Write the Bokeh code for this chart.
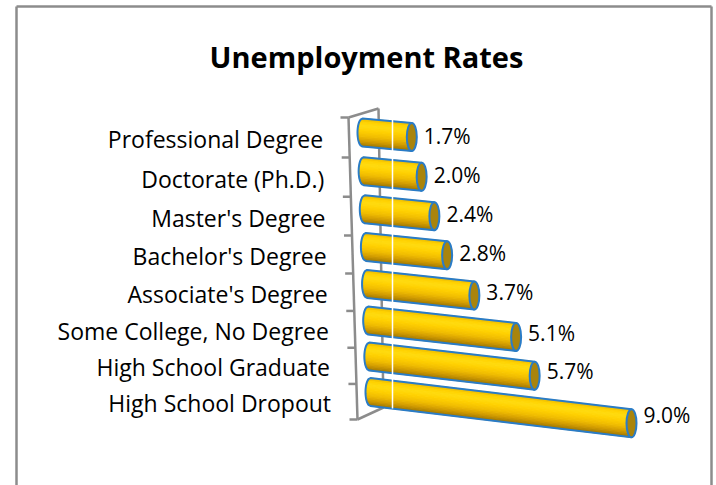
import numpy as np
from bokeh.plotting import figure
from bokeh.models import Range1d
from bokeh.core.properties import value
from bokeh.embed import file_html
from bokeh.resources import INLINE

# ---------------- data ----------------
categories = ["High School Dropout", "High School Graduate", "Some College, No Degree",
              "Associate's Degree", "Bachelor's Degree", "Master's Degree",
              "Doctorate (Ph.D.)", "Professional Degree"]
rates = [9.0, 5.7, 5.1, 3.7, 2.8, 2.4, 2.0, 1.7]
rate_labels = ["9.0%", "5.7%", "5.1%", "3.7%", "2.8%", "2.4%", "2.0%", "1.7%"]
title_text = "Unemployment Rates"

# ---------------- styles / geometry ----------------
FONT = "Open Sans"
BLUE = "#2A7CC7"
GRAY = "#8C8C8C"
CAP = "#A9840C"
n = len(categories)
PX = 29.0        # pixels per percentage point along the bar axis
HH = 14.0        # half height of cylinder
RX = 5.0         # half width of end ellipse
NB = 18          # gradient bands

stops_t = [-1.0, -0.75, -0.45, -0.1, 0.3, 0.65, 1.0]
stops_c = [(0xE2, 0xAE, 0x00), (0xFF, 0xD2, 0x00), (0xFF, 0xDC, 0x10), (0xFF, 0xD0, 0x00),
           (0xF0, 0xBC, 0x00), (0xD2, 0x9C, 0x00), (0xA0, 0x76, 0x00)]


def band_color(t):
    r = np.interp(t, stops_t, [c[0] for c in stops_c])
    g = np.interp(t, stops_t, [c[1] for c in stops_c])
    b = np.interp(t, stops_t, [c[2] for c in stops_c])
    return "#%02x%02x%02x" % (int(r), int(g), int(b))


def row_y(i):      # left-end centre (screen px) of row i (0 = bottom)
    return 391.5 - 35.21 * i - 0.265 * i * i


def row_xl(i):
    return 370.0 - 8.0 * i / (n - 1)


def row_slope(i):
    return 0.12 - 0.03 * i / (n - 1)


def tick_y(j):
    return 419.0 - 35.25 * j - 0.3125 * j * j


def front_x(y):
    return 357.0 - 9.0 * (419.0 - y) / 302.0


W, H = 716, 485
p = figure(width=W, height=H, x_range=Range1d(0, W), y_range=Range1d(H, 0),
           output_backend="svg", toolbar_location=None, x_axis_type=None, y_axis_type=None,
           min_border=0, min_border_left=0, min_border_right=0, min_border_top=0,
           min_border_bottom=0)
p.grid.visible = False
p.outline_line_color = None
p.background_fill_color = "white"
p.border_fill_color = "white"

# chart border
p.segment(x0=[16, 16, 711], y0=[6, 6, 6], x1=[16, 711, 711], y1=[485, 6, 485],
          line_color=GRAY, line_width=2.5)

# title
p.text(x=[366], y=[56], text=[title_text], text_font=value(FONT), text_font_style="bold",
       text_font_size="29px", text_align="center", text_baseline="middle", text_color="black")

# wall / axis lines
ty = [tick_y(j) for j in range(n + 1)]
top_y, bot_y = ty[-1], ty[0]
p.segment(x0=[front_x(top_y), front_x(top_y), 378, front_x(bot_y)],
          y0=[top_y, top_y, 108, bot_y],
          x1=[front_x(bot_y), 378, 383, 383],
          y1=[bot_y, 108, 407, 407], line_color=GRAY, line_width=2.5)
p.segment(x0=[front_x(y) - 8 for y in ty], y0=ty, x1=[front_x(y) for y in ty], y1=ty,
          line_color=GRAY, line_width=2.5)

# category labels
lab_y = [(ty[j] + ty[j + 1]) / 2 + 1.5 for j in range(n)]
p.text(x=[front_x(y) - 26 for y in lab_y], y=lab_y, text=categories, text_font=value(FONT),
       text_font_size="23px", text_align="right", text_baseline="middle", text_color="black")

# cylinders
bx, by, bc = [], [], []
ox, oy = [], []
cx, cy = [], []
vx, vy = [], []
for i, v in enumerate(rates):
    xl, yl = row_xl(i), row_y(i)
    dx = PX * v
    xr = xl + dx
    yr = yl + row_slope(i) * dx
    for k in range(NB):
        t0 = -1 + 2.0 * k / NB
        t1 = t0 + 2.0 / NB
        bx.append([xl - RX * np.sqrt(max(0, 1 - t0 * t0)), xr, xr, xl - RX * np.sqrt(max(0, 1 - t1 * t1))])
        by.append([yl + HH * t0, yr + HH * t0, yr + HH * t1, yl + HH * t1])
        bc.append(band_color((t0 + t1) / 2))
    ts = np.linspace(1, -1, 25)
    ox.append([xl, xr, xr, xl] + list(xl - RX * np.sqrt(1 - ts ** 2)))
    oy.append([yl - HH, yr - HH, yr + HH, yl + HH] + list(yl + HH * ts))
    cx.append(xr)
    cy.append(yr)
    vx.append(xr + RX + 7)
    vy.append(yr - 0.03 * dx)

p.patches(xs=bx, ys=by, fill_color=bc, line_color=bc, line_width=1)
p.patches(xs=ox, ys=oy, fill_color=None, line_color=BLUE, line_width=2)
p.ellipse(x=cx, y=cy, width=2 * RX, height=2 * HH, fill_color=CAP, line_color=BLUE, line_width=2)

# thin white line across the bars
p.segment(x0=[392], y0=[117], x1=[392], y1=[408], line_color="white", line_width=1.5)

# value labels
p.text(x=vx, y=vy, text=rate_labels, text_font=value(FONT), text_font_size="21px",
       text_align="left", text_baseline="middle", text_color="black")

open("out.html", "w").write(file_html(p, INLINE))
